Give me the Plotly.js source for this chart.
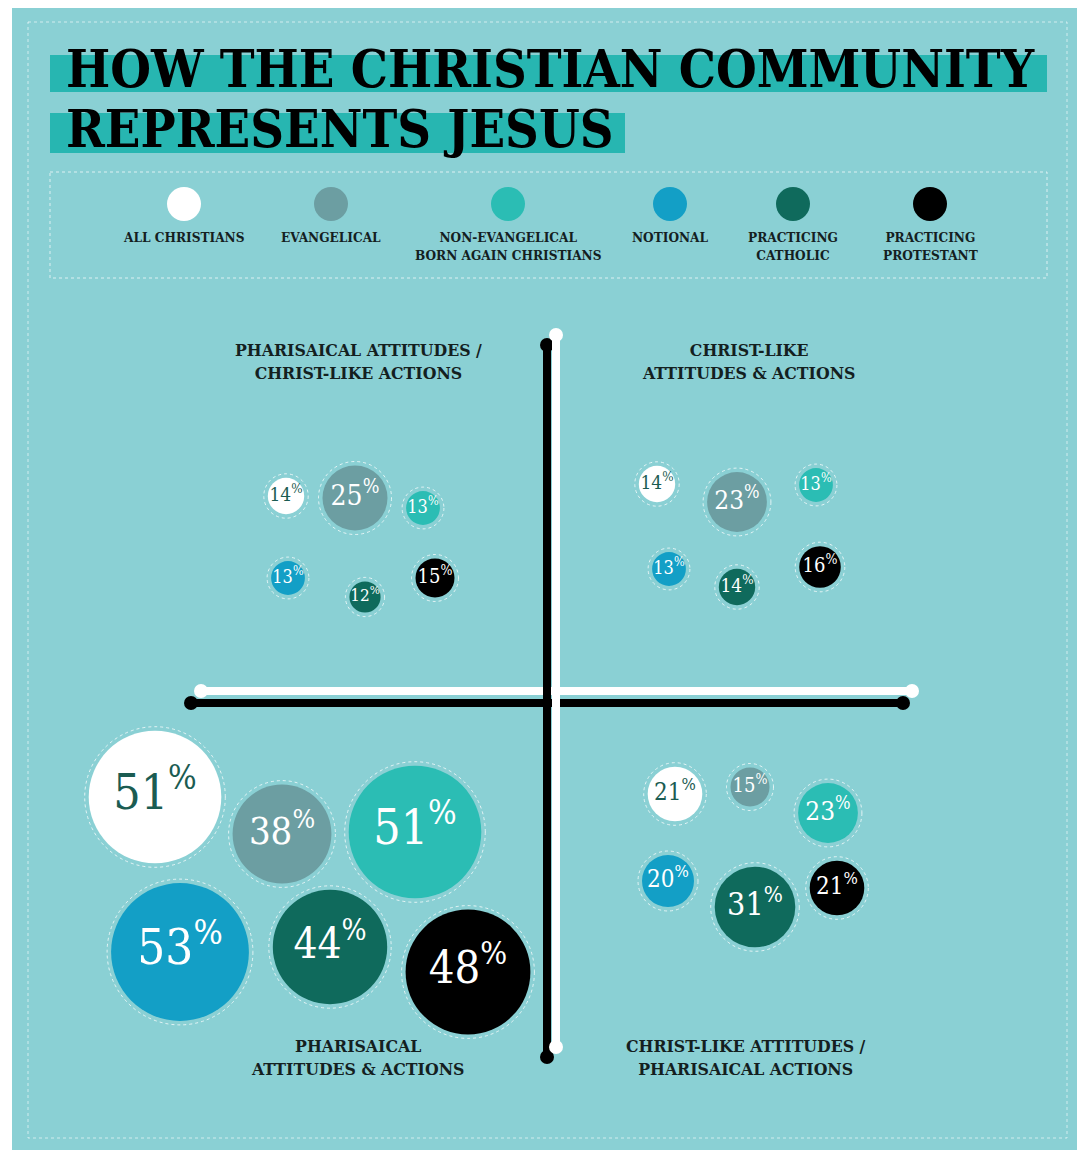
<!DOCTYPE html>
<html>
<head>
<meta charset="utf-8">
<script src="https://cdn.plot.ly/plotly-3.0.1.min.js"></script>
<style>html,body{margin:0;padding:0;background:#fff;}#chart{width:1083px;height:1153px;}</style>
</head>
<body>
<div id="chart"></div>
<script>
// ---------- DATA ----------
const groups = ['ALL CHRISTIANS', 'EVANGELICAL', 'NON-EVANGELICAL<br>BORN AGAIN CHRISTIANS', 'NOTIONAL', 'PRACTICING<br>CATHOLIC', 'PRACTICING<br>PROTESTANT'];
const pharisaicalAttitudesChristLikeActions = [14, 25, 13, 13, 12, 15];
const christLikeAttitudesActions = [14, 23, 13, 13, 14, 16];
const pharisaicalAttitudesActions = [51, 38, 51, 53, 44, 48];
const christLikeAttitudesPharisaicalActions = [21, 15, 23, 20, 31, 21];
const quadrantTitles = [
  'PHARISAICAL ATTITUDES /<br>CHRIST-LIKE ACTIONS',
  'CHRIST-LIKE<br>ATTITUDES & ACTIONS',
  'PHARISAICAL<br>ATTITUDES & ACTIONS',
  'CHRIST-LIKE ATTITUDES /<br>PHARISAICAL ACTIONS'
];
const chartTitle = ['HOW THE CHRISTIAN COMMUNITY', 'REPRESENTS JESUS'];

// ---------- STYLE / LAYOUT ----------
const colors = ['#ffffff', '#6c9ea2', '#2bbdb4', '#139fc6', '#0f6a5c', '#000000'];
const textColors = ['#1b5c52', '#ffffff', '#ffffff', '#ffffff', '#ffffff', '#ffffff'];
const BG = '#8ad0d4';
const BAR = '#27b6b1';
const DARK = '#14201f';
const PX_PER_PCT = 2.6; // bubble diameter in px per percentage point

// bubble arrangement (layout positions in page pixels) for each quadrant
const quadrantLayout = [
  {vals: pharisaicalAttitudesChristLikeActions, xs: [286, 355, 423, 288, 365, 435], ys: [496, 498, 508, 578, 597, 578], label: [358, 361]},
  {vals: christLikeAttitudesActions, xs: [657, 737, 816, 669, 737, 820], ys: [484, 502, 485, 569, 587, 567], label: [748, 361]},
  {vals: pharisaicalAttitudesActions, xs: [155, 282, 415, 180, 330, 468], ys: [797, 834, 832, 952, 947, 972], label: [357, 1057]},
  {vals: christLikeAttitudesPharisaicalActions, xs: [675, 750, 828, 668, 755, 837], ys: [794, 787, 813, 881, 907, 888], label: [746, 1057]}
];
const legendXs = [184, 331, 508, 670, 793, 930];

const headFont = 'DejaVu Serif Condensed, DejaVu Serif, serif';
const numFont = 'DejaVu Serif Condensed, DejaVu Serif, serif';

const traces = [];
const shapes = [];
const annotations = [];

// page frame
shapes.push({type: 'rect', xref: 'x', yref: 'y', x0: 12, x1: 1077, y0: 8, y1: 1150, fillcolor: BG, line: {width: 0}, layer: 'below'});
shapes.push({type: 'rect', xref: 'x', yref: 'y', x0: 28, x1: 1067, y0: 22, y1: 1138, line: {color: 'rgba(255,255,255,0.6)', width: 1, dash: 'dot'}, layer: 'below'});

// title bars
shapes.push({type: 'rect', xref: 'x', yref: 'y', x0: 50, x1: 1047, y0: 55, y1: 92, fillcolor: BAR, line: {width: 0}, layer: 'below'});
shapes.push({type: 'rect', xref: 'x', yref: 'y', x0: 50, x1: 625, y0: 113, y1: 153, fillcolor: BAR, line: {width: 0}, layer: 'below'});
annotations.push({xref: 'x', yref: 'y', x: 64, y: 68, xanchor: 'left', yanchor: 'middle', showarrow: false,
  text: chartTitle[0], font: {family: headFont, size: 52, color: '#000', weight: 'bold'}});
annotations.push({xref: 'x', yref: 'y', x: 64, y: 128, xanchor: 'left', yanchor: 'middle', showarrow: false,
  text: chartTitle[1], font: {family: headFont, size: 52, color: '#000', weight: 'bold'}});

// legend box
shapes.push({type: 'rect', xref: 'x', yref: 'y', x0: 50, x1: 1047, y0: 172, y1: 278, line: {color: 'rgba(255,255,255,0.7)', width: 1, dash: 'dot'}, layer: 'below'});
traces.push({type: 'scatter', mode: 'markers', x: legendXs, y: groups.map(() => 204),
  marker: {size: 34, color: colors, line: {width: 0}}, hoverinfo: 'skip', showlegend: false});
groups.forEach((g, i) => {
  annotations.push({xref: 'x', yref: 'y', x: legendXs[i], y: 227, xanchor: 'center', yanchor: 'top', showarrow: false,
    text: g, align: 'center', font: {family: headFont, size: 13.5, color: DARK, weight: 'bold'}});
});

// axes lines (cross)
function lineWithDots(x0, y0, x1, y1, color) {
  shapes.push({type: 'line', xref: 'x', yref: 'y', x0, y0, x1, y1, line: {color, width: 8}});
  [[x0, y0], [x1, y1]].forEach(([cx, cy]) => {
    shapes.push({type: 'circle', xref: 'x', yref: 'y', xsizemode: 'pixel', ysizemode: 'pixel', xanchor: cx, yanchor: cy,
      x0: -7, x1: 7, y0: -7, y1: 7, fillcolor: color, line: {width: 0}});
  });
}
lineWithDots(201, 691, 912, 691, '#ffffff');
lineWithDots(547, 345, 547, 1057, '#000000');
lineWithDots(191, 703, 903, 703, '#000000');
lineWithDots(556, 335, 556, 1047, '#ffffff');

// bubbles
quadrantLayout.forEach((q, qi) => {
  const radii = q.vals.map(v => v * PX_PER_PCT / 2);
  traces.push({
    type: 'scatter', mode: 'markers+text', x: q.xs, y: q.ys,
    marker: {size: q.vals, sizemode: 'diameter', sizeref: 1 / PX_PER_PCT, color: colors, line: {width: 0}, opacity: 1},
    text: q.vals.map(v => v + '<sup>%</sup>'),
    textposition: 'middle center',
    textfont: {family: numFont, size: radii.map(r => Math.round(8 + 0.6 * r)), color: textColors},
    hovertext: groups.map((g, i) => g.replace('<br>', ' ') + ': ' + q.vals[i] + '%'), hoverinfo: 'text',
    showlegend: false
  });
  radii.forEach((r, i) => {
    shapes.push({type: 'circle', xref: 'x', yref: 'y', xsizemode: 'pixel', ysizemode: 'pixel', xanchor: q.xs[i], yanchor: q.ys[i],
      x0: -r - 4, x1: r + 4, y0: -r - 4, y1: r + 4, line: {color: 'rgba(255,255,255,0.75)', width: 1, dash: 'dot'}, layer: 'below'});
  });
  annotations.push({xref: 'x', yref: 'y', x: q.label[0], y: q.label[1], xanchor: 'center', yanchor: 'middle', showarrow: false,
    text: quadrantTitles[qi], align: 'center', font: {family: headFont, size: 17.5, color: DARK, weight: 'bold'}});
});

const layout = {
  width: 1083, height: 1153,
  margin: {l: 0, r: 0, t: 0, b: 0},
  paper_bgcolor: '#ffffff', plot_bgcolor: '#ffffff',
  xaxis: {range: [0, 1083], visible: false, fixedrange: true},
  yaxis: {range: [1153, 0], visible: false, fixedrange: true},
  shapes, annotations, showlegend: false
};
Plotly.newPlot('chart', traces, layout, {displayModeBar: false, staticPlot: true});
</script>
</body>
</html>
